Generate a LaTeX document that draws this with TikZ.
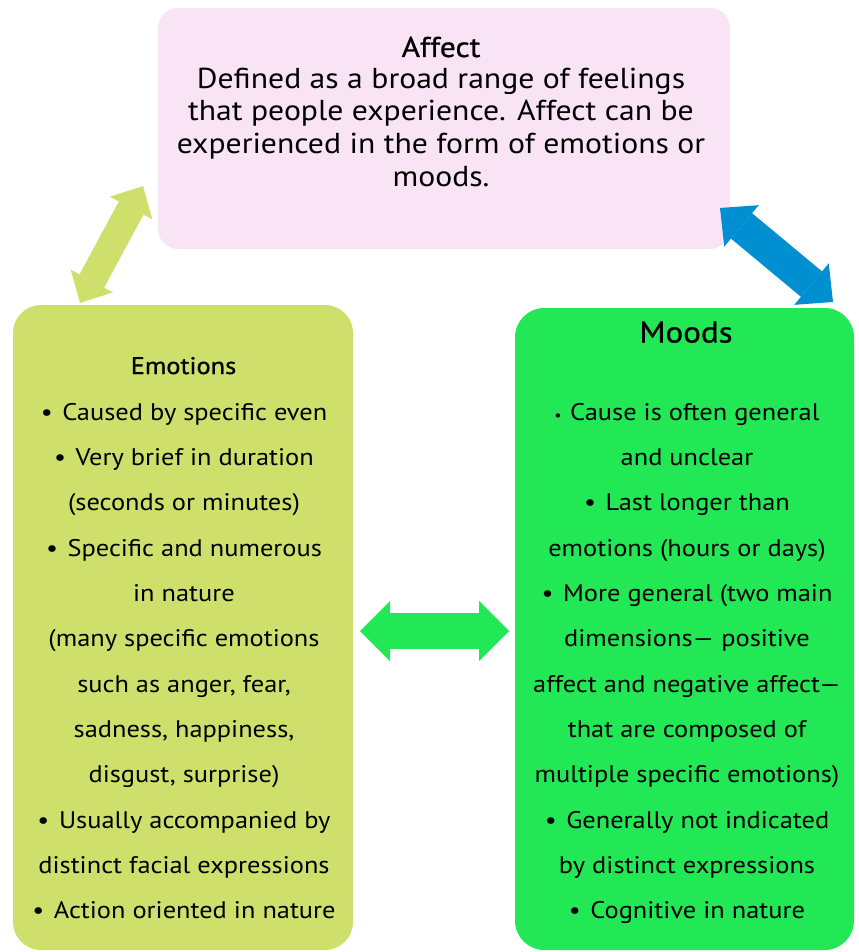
\documentclass[tikz,border=0pt]{standalone}
\usepackage{fontspec}
\setmainfont[FakeStretch=1.1]{PT Sans}
\newfontfamily\headfont[FakeBold=0.8,FakeStretch=1.1]{PT Sans}
\usetikzlibrary{arrows.meta}

\definecolor{affectpink}{HTML}{F9E4F6}
\definecolor{emolime}{HTML}{CFDF6B}
\definecolor{moodgreen}{HTML}{22E855}
\definecolor{linkblue}{HTML}{0090D1}

\newcommand\bul{\textbullet\hspace{0.4em}}
\newcommand\smallbul{{\fontsize{11}{11}\selectfont\textbullet}\hspace{0.35em}}

\tikzset{
  panel/.style={rounded corners=#1, draw=none, inner sep=0pt},
  bodytext/.style={align=center, inner sep=0pt, anchor=north,
    font=\fontsize{18}{34}\selectfont},
  fatarrow/.style n args={4}{draw=#4, line width=#1,
    arrows={Triangle[width=#2,length=#3,line width=0pt]-Triangle[width=#2,length=#3,line width=0pt]}}
}

\begin{document}
\begin{tikzpicture}[x=0.75pt, y=-0.75pt]
\useasboundingbox (0,0) rectangle (859,952);

% panels
\node[panel=15pt, fill=affectpink, minimum width=429pt, minimum height=180.75pt]
  (affect) at (444,128.5) {};
\node[panel=21pt, fill=emolime, minimum width=255pt, minimum height=483.75pt]
  (emotions) at (183,627.5) {};
\node[panel=22pt, fill=moodgreen, minimum width=254.25pt, minimum height=481.5pt]
  (moods) at (684.5,629) {};

% affect text
\node[anchor=base, inner sep=0pt, font=\headfont\fontsize{21.5}{26}\selectfont]
  (affectTitle) at (441,57) {Affect};
\node[bodytext, font=\fontsize{21.6}{24.5}\selectfont] (affectBody) at (441,65.1)
  {\strut Defined as a broad range of feelings\\
   that people experience. Affect can be\\
   experienced in the form of emotions or\\
   moods.};

% emotions text
\node[anchor=base, inner sep=0pt, font=\headfont\fontsize{18}{22}\selectfont]
  (emoTitle) at (183.5,374) {Emotions};
\node[bodytext] (emoBody) at (184,388.3)
  {\strut\bul Caused by specific even\\
   \bul Very brief in duration\\
   (seconds or minutes)\\
   \bul Specific and numerous\\
   in nature\\
   (many specific emotions\\
   such as anger, fear,\\
   sadness, happiness,\\
   disgust, surprise)\\
   \bul Usually accompanied by\\
   distinct facial expressions\\
   \bul Action oriented in nature};

% moods text
\node[anchor=base, inner sep=0pt, font=\headfont\fontsize{22.5}{27}\selectfont]
  (moodTitle) at (686,342.5) {Moods};
\node[bodytext] (moodBody) at (687,388.3)
  {\strut\smallbul Cause is often general\\
   and unclear\\
   \bul Last longer than\\
   emotions (hours or days)\\
   \bul More general (two main\\
   dimensions— positive\\
   affect and negative affect—\\
   that are composed of\\
   multiple specific emotions)\\
   \bul Generally not indicated\\
   by distinct expressions\\
   \bul Cognitive in nature};

% arrow end points
\coordinate (emoUp)    at (80,303);
\coordinate (affLeft)  at (143,186);
\coordinate (affRight) at (720,208);
\coordinate (moodUp)   at (833,302);
\coordinate (emoSide)  at (360,631);
\coordinate (moodSide) at (509,631);

% links
\draw[fatarrow={21pt}{36pt}{18.75pt}{emolime}] (emoUp) -- (affLeft);
\draw[fatarrow={24.75pt}{40.5pt}{21pt}{linkblue}] (affRight) -- (moodUp);
\draw[fatarrow={27pt}{45pt}{22.5pt}{moodgreen}] (emoSide) -- (moodSide);
\end{tikzpicture}
\end{document}
